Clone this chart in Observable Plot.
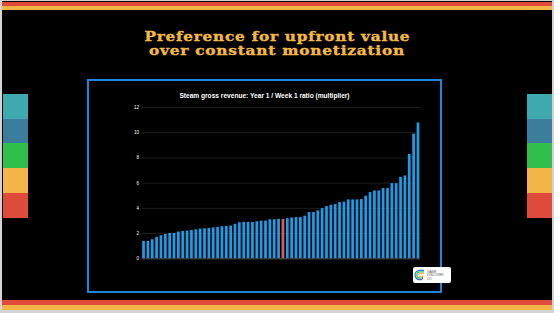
<!DOCTYPE html>
<html>
<head>
<meta charset="utf-8">
<script src="https://cdn.jsdelivr.net/npm/d3@7"></script>
<script src="https://cdn.jsdelivr.net/npm/@observablehq/plot@0.6"></script>
<style>
  html, body { margin: 0; padding: 0; background: #d4d4d4; }
  #page { position: relative; width: 554px; height: 313px; overflow: hidden; background: #d4d4d4; }
  #slide { position: absolute; left: 2px; top: 1px; width: 550px; height: 309px; background: #000; }
  .band { position: absolute; }
  .tl { position: absolute; left: 0; width: 554px; height: 14px; text-align: center; }
  .tl span { display: inline-block; font-family: "DejaVu Serif", serif; font-weight: bold; font-size: 12px;
    line-height: 14px; color: #f4b942; letter-spacing: 0.6px; white-space: nowrap; transform-origin: 50% 50%;
    -webkit-text-stroke: 0.35px #f4b942; }
  #frame { position: absolute; left: 87px; top: 79px; width: 351px; height: 210px; border: 2px solid #1e86d8; }
  #ctitle { position: absolute; left: 87px; width: 355px; top: 91.5px; text-align: center;
    font-family: "Liberation Sans", Arial, sans-serif; font-weight: bold; font-size: 6.6px; color: #fff; }
  #chart { position: absolute; left: 87px; top: 80px; }
  #logo { position: absolute; left: 413px; top: 267px; width: 38px; height: 16px; background: #fff; border-radius: 2px; }
</style>
</head>
<body>
<div id="page">
  <div id="slide"></div>
  <div class="band" style="left:2px;top:2px;width:550px;height:4px;background:#e04a3b"></div>
  <div class="band" style="left:2px;top:6px;width:550px;height:4px;background:#f3b548"></div>
  <div class="band" style="left:2px;top:300px;width:550px;height:5px;background:#e04a3b"></div>
  <div class="band" style="left:2px;top:305px;width:550px;height:5px;background:#f3b548"></div>
  <div id="left"></div>
  <div id="right"></div>
  <div class="tl" style="top:27.2px"><span data-w="266">Preference for upfront value</span></div>
  <div class="tl" style="top:41.2px"><span data-w="256">over constant monetization</span></div>
  <div id="frame"></div>
  <div id="ctitle">Steam gross revenue: Year 1 / Week 1 ratio (multiplier)</div>
  <div id="chart"></div>
  <div id="logo">
    <svg width="38" height="16" viewBox="0 0 38 16">
      <path d="M11 3.5 H6.5 A4.5 4.5 0 0 0 6.5 12.5 H9" fill="none" stroke="#2a7fd4" stroke-width="1.3"/>
      <path d="M11 5 H6.8 A3 3 0 0 0 6.8 11 H9.5" fill="none" stroke="#2fbf4a" stroke-width="1.1"/>
      <path d="M11 6.4 H7.2 A1.6 1.6 0 0 0 7.2 9.6 H10" fill="none" stroke="#f3b548" stroke-width="1"/>
      <path d="M9.5 9.6 V12.5" fill="none" stroke="#e04a3b" stroke-width="1.1"/>
      <text x="14" y="5.5" font-family="Liberation Sans, Arial" font-size="3.2" fill="#555">GAME</text>
      <text x="14" y="9.3" font-family="Liberation Sans, Arial" font-size="3.2" fill="#555">DISCOVER</text>
      <text x="14" y="13.1" font-family="Liberation Sans, Arial" font-size="3.2" fill="#555">CO</text>
    </svg>
  </div>
</div>
<script>
// ---- data ----
const ranks = [1,2,3,4,5,6,7,8,9,10,11,12,13,14,15,16,17,18,19,20,21,22,23,24,25,26,27,28,29,30,31,32,
  33,34,35,36,37,38,39,40,41,42,43,44,45,46,47,48,49,50,51,52,53,54,55,56,57,58,59,60,61,62,63,64];
const ratios = [1.38,1.38,1.51,1.70,1.83,1.93,2.01,2.01,2.12,2.17,2.20,2.25,2.30,2.36,2.38,2.41,
  2.46,2.49,2.54,2.57,2.60,2.73,2.86,2.89,2.89,2.89,2.94,2.99,2.99,3.10,3.10,3.13,
  3.13,3.18,3.24,3.27,3.27,3.38,3.67,3.67,3.80,3.98,4.14,4.25,4.30,4.46,4.49,4.67,
  4.67,4.67,4.70,4.96,5.25,5.38,5.38,5.57,5.57,5.96,5.96,6.46,6.57,8.28,9.89,10.77];
const highlighted = [33];
const yTicks = [0, 2, 4, 6, 8, 10, 12];
const sideColors = ["#3fa9b0", "#3a7d9c", "#2fbf4a", "#f3b548", "#e04a3b"];

// widen the title lines to the reference's (wide display face) width
document.querySelectorAll(".tl span").forEach(s => {
  const w = s.getBoundingClientRect().width;
  s.style.transform = `scaleX(${(+s.dataset.w / w).toFixed(3)})`;
});

// side colour stripes (decoration)
for (const [id, left] of [["left", 3], ["right", 527]]) {
  const el = document.getElementById(id);
  sideColors.forEach((c, i) => {
    const d = document.createElement("div");
    d.className = "band";
    d.style.cssText = `left:${left}px;top:${94 + i * 24.7}px;width:24.5px;height:24.8px;background:${c}`;
    el.appendChild(d);
  });
}

const table = ranks.map((r, i) => ({rank: r, ratio: ratios[i], hi: highlighted.includes(r)}));

const W = 354, H = 212;
const chart = Plot.plot({
  width: W,
  height: H,
  marginLeft: 54.5,
  marginRight: 21,
  marginTop: 27,
  marginBottom: 33.7,
  style: {background: "transparent", color: "#fff", fontFamily: "Liberation Sans, Arial, sans-serif", fontSize: "4.5px"},
  x: {type: "band", domain: ranks, axis: null, round: false, paddingInner: 0.37, paddingOuter: 0.15},
  y: {domain: [0, 12], ticks: yTicks, label: null, tickSize: 0, tickPadding: 3, tickFormat: d3.format("d")},
  marks: [
    Plot.gridY(yTicks, {stroke: "#262626", strokeOpacity: 1, strokeWidth: 0.8}),
    Plot.barY(table, {x: "rank", y: "ratio", fill: d => d.hi ? "#e3594f" : "#1b9ce6"}),
    Plot.ruleY([0], {stroke: "#555", strokeWidth: 0.8})
  ]
});
document.getElementById("chart").appendChild(chart);
</script>
</body>
</html>
